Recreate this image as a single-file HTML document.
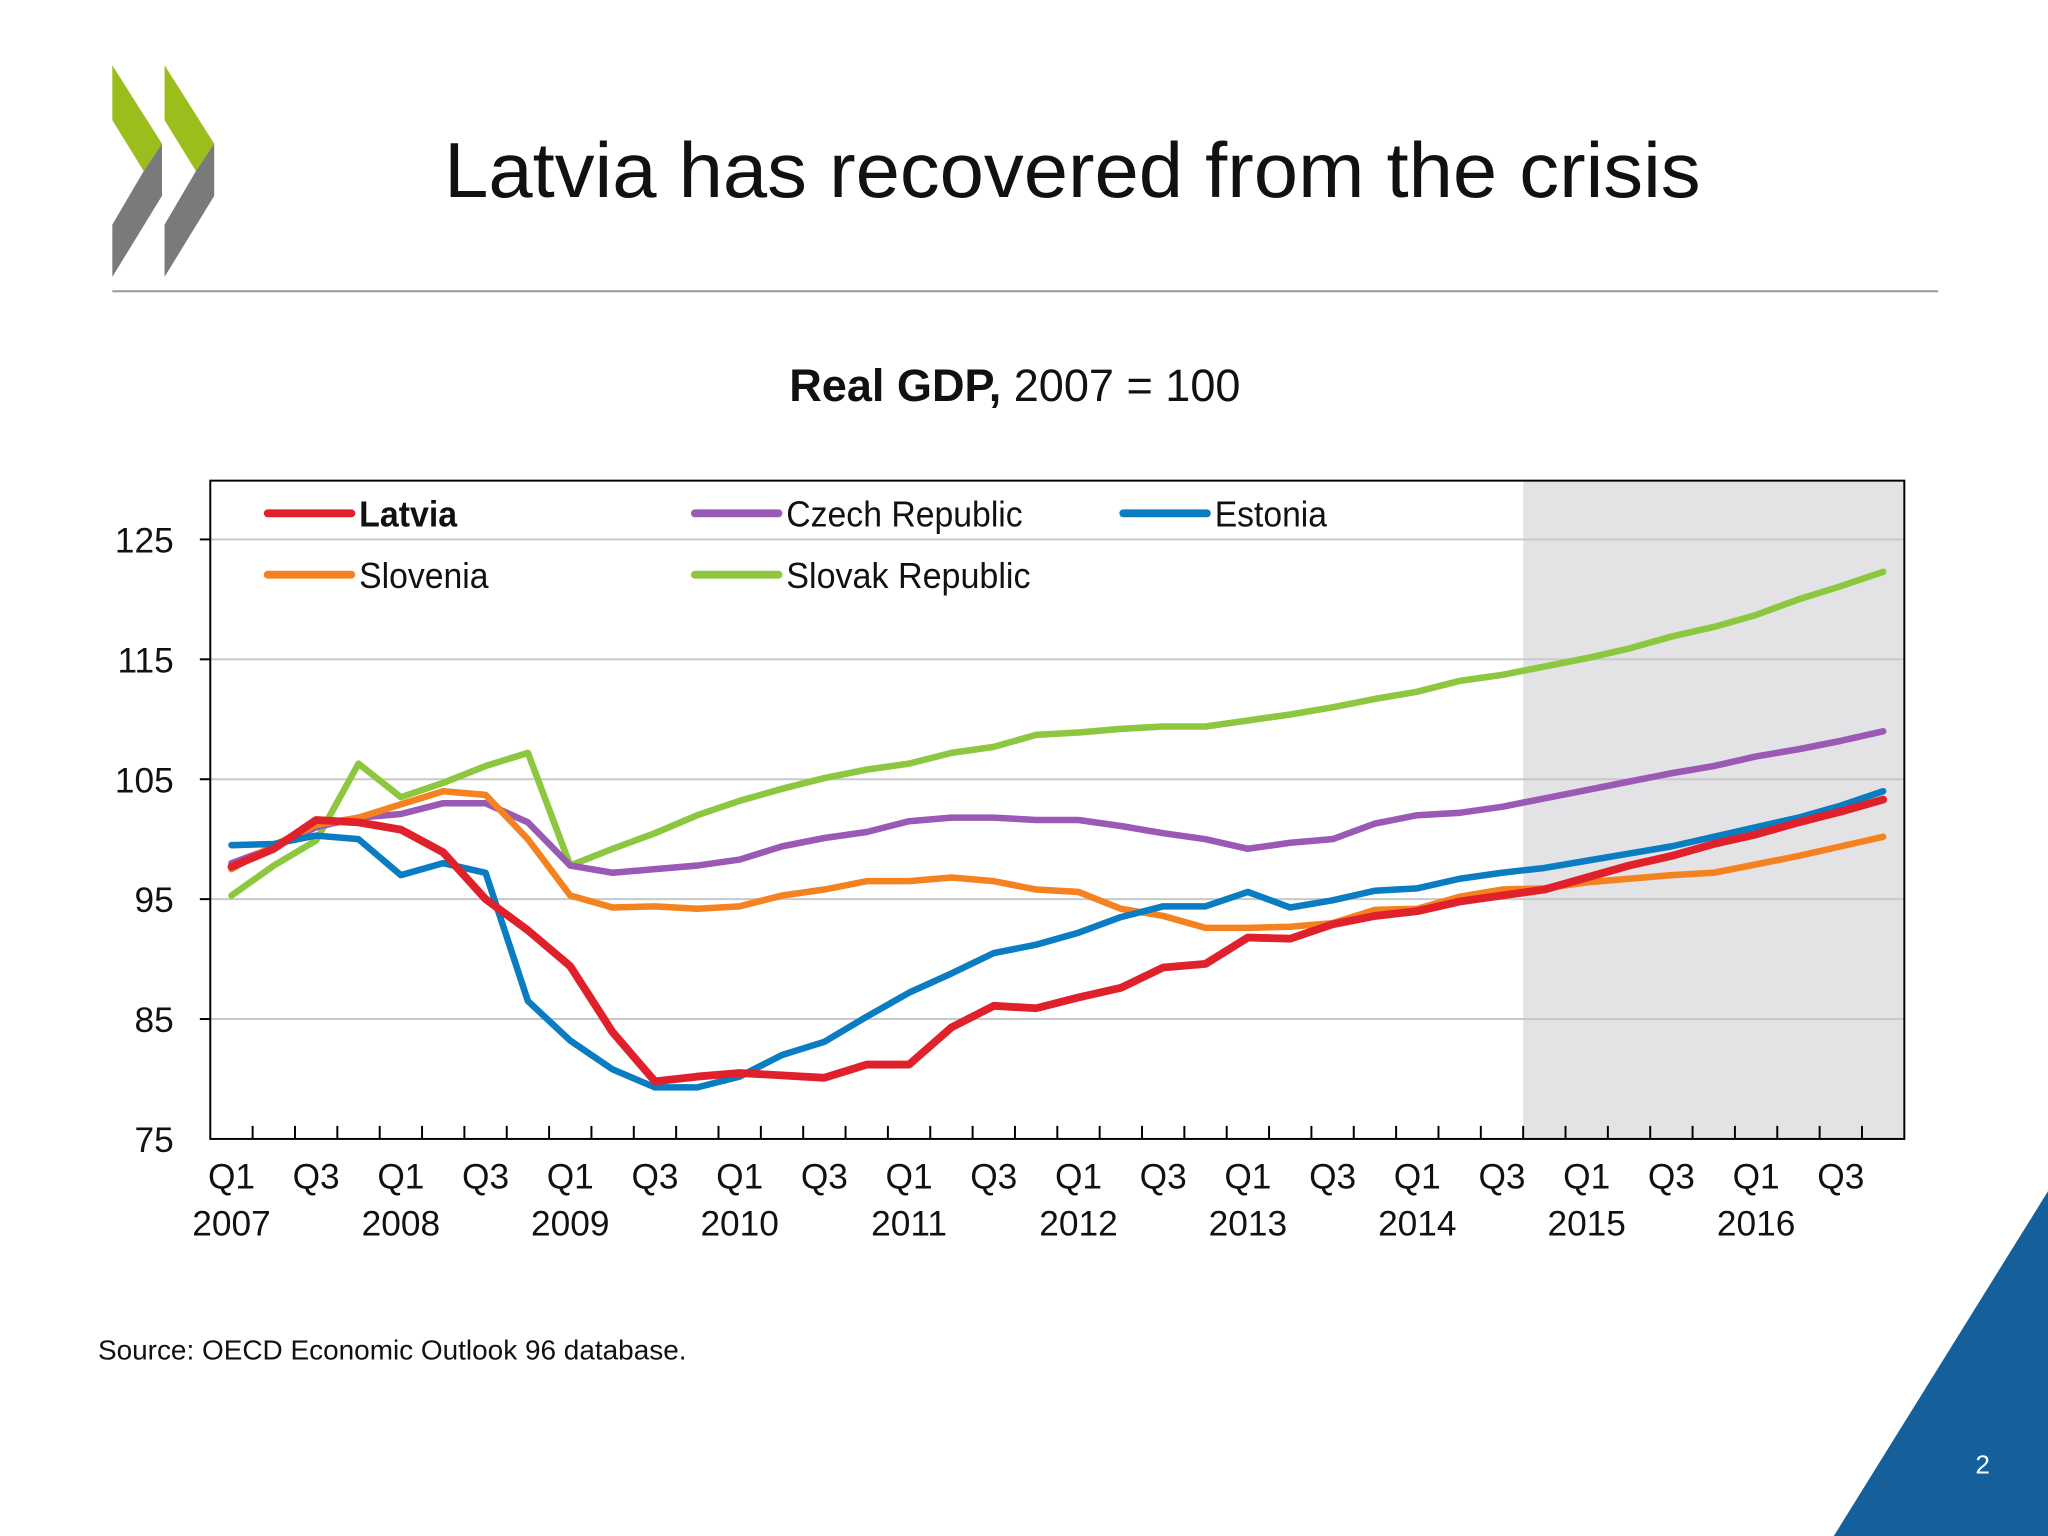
<!DOCTYPE html>
<html><head><meta charset="utf-8"><style>
html,body{margin:0;padding:0;background:#fff;}
svg{display:block;}
text{font-family:"Liberation Sans",sans-serif;}
</style></head><body>
<svg id="slide" width="2048" height="1536" viewBox="0 0 1568 1176" xmlns="http://www.w3.org/2000/svg">
<g>
<polygon points="86,50 124,110 110,131 86,92" fill="#9bbe1c"/>
<polygon points="124,110 124,150 86,212 86,172 110,131" fill="#7a7a7a"/>
<polygon points="126,50 164,110 150,131 126,92" fill="#9bbe1c"/>
<polygon points="164,110 164,150 126,212 126,172 150,131" fill="#7a7a7a"/>
</g>
<text x="821" y="151" font-size="60" text-anchor="middle" fill="#111" textLength="962" lengthAdjust="spacingAndGlyphs">Latvia has recovered from the crisis</text>
<line x1="86" y1="223" x2="1484" y2="223" stroke="#999" stroke-width="1.5"/>
<text x="777" y="307" font-size="34.5" text-anchor="middle" fill="#111"><tspan font-weight="bold">Real GDP,</tspan> 2007 = 100</text>
<g id="chart"></g>
<text x="75" y="1041" font-size="21.4" fill="#111">Source: OECD Economic Outlook 96 database.</text>
<polygon points="1404,1176 1568,912 1568,1176" fill="#15609a"/>
<text x="1518" y="1128" font-size="20" fill="#fff" text-anchor="middle">2</text>
</svg>
<script>
const yTicks=[125,115,105,95,85,75];
const xLabelsQ=["Q1","Q3","Q1","Q3","Q1","Q3","Q1","Q3","Q1","Q3","Q1","Q3","Q1","Q3","Q1","Q3","Q1","Q3","Q1","Q3"];
const xLabelsYear=["2007","","2008","","2009","","2010","","2011","","2012","","2013","","2014","","2015","","2016",""];
const seriesNames=["Latvia","Czech Republic","Estonia","Slovenia","Slovak Republic"];
const latvia=[97.7,99.2,101.6,101.4,100.8,98.9,95,92.4,89.4,83.9,79.8,80.2,80.5,80.3,80.1,81.2,81.2,84.3,86.1,85.9,86.8,87.6,89.3,89.6,91.8,91.7,92.9,93.6,94,94.8,95.3,95.8,96.8,97.8,98.6,99.6,100.4,101.4,102.3,103.3];
const estonia=[99.5,99.6,100.3,100,97,98,97.2,86.5,83.2,80.8,79.3,79.3,80.2,82,83.1,85.2,87.2,88.8,90.5,91.2,92.2,93.5,94.4,94.4,95.6,94.3,94.9,95.7,95.9,96.7,97.2,97.6,98.2,98.8,99.4,100.2,101,101.8,102.8,104];
const czech=[98,99.3,101,101.8,102.1,103,103,101.4,97.8,97.2,97.5,97.8,98.3,99.4,100.1,100.6,101.5,101.8,101.8,101.6,101.6,101.1,100.5,100,99.2,99.7,100,101.3,102,102.2,102.7,103.4,104.1,104.8,105.5,106.1,106.9,107.5,108.2,109];
const slovenia=[97.5,99.5,101.2,101.8,102.9,104,103.7,100,95.3,94.3,94.4,94.2,94.4,95.3,95.8,96.5,96.5,96.8,96.5,95.8,95.6,94.2,93.6,92.6,92.6,92.7,93,94.1,94.2,95.2,95.8,95.9,96.4,96.7,97,97.2,97.9,98.6,99.4,100.2];
const slovak=[95.3,97.8,99.9,106.3,103.5,104.7,106.1,107.2,97.8,99.2,100.5,102,103.2,104.2,105.1,105.8,106.3,107.2,107.7,108.7,108.9,109.2,109.4,109.4,109.9,110.4,111,111.7,112.3,113.2,113.7,114.4,115.1,115.9,116.9,117.7,118.7,120,121.1,122.3];
const forecastStart=31;

const NS="http://www.w3.org/2000/svg";
const g=document.getElementById('chart');
const L=161,R=1458,T=368,B=872,N=40,step=(R-L)/N;
const X=i=>L+step*(i+0.5);
const Y=v=>413+(125-v)*(B-413)/50;
function mk(tag,attrs,parent){const e=document.createElementNS(NS,tag);for(const k in attrs)e.setAttribute(k,attrs[k]);(parent||g).appendChild(e);return e;}

const shade=mk('rect',{x:L+step*forecastStart,y:T,width:R-(L+step*forecastStart),height:B-T,fill:'#e3e3e5'});



yTicks.forEach(v=>{
  if(v>75){const gl=mk('line',{x1:L-8,x2:R,y1:Y(v),y2:Y(v),stroke:'#c8c8c8','stroke-width':1.5});
  
  
  mk('line',{x1:L-8,x2:L,y1:Y(v),y2:Y(v),stroke:'#000','stroke-width':1.5});}
  const t=mk('text',{x:133,y:Y(v)+10,'font-size':27,'text-anchor':'end',fill:'#111'});
  t.textContent=v;
  
  
});

for(let k=1;k<N;k++){mk('line',{x1:L+step*k,x2:L+step*k,y1:B,y2:B-10,stroke:'#000','stroke-width':1.5});}
xLabelsQ.forEach((q,j)=>{
  const x=X(j*2);
  const t=mk('text',{x:x,y:910,'font-size':27,'text-anchor':'middle',fill:'#111'});
  t.textContent=q;
  
  
  if(xLabelsYear[j]){const t2=mk('text',{x:x,y:946,'font-size':27,'text-anchor':'middle',fill:'#111'});
  t2.textContent=xLabelsYear[j];
  
  }
});

const frame=mk('rect',{x:L,y:T,width:R-L,height:B-T,fill:'none',stroke:'#000','stroke-width':1.5});



const series=[[slovak,'#8dc63f'],[czech,'#9b59b6'],[slovenia,'#f58220'],[estonia,'#0a7cc1'],[latvia,'#e0202a']];
const sNames=['slovak-republic','czech-republic','slovenia','estonia','latvia'];
series.forEach((s,k)=>{
  const p=mk('polyline',{points:s[0].map((v,i)=>X(i)+','+Y(v)).join(' '),fill:'none',stroke:s[1],'stroke-width':k==4?6:5,'stroke-linejoin':'round','stroke-linecap':'round'});
  
  
});

const leg=[["Latvia",'#e0202a',205,393,75,true],["Czech Republic",'#9b59b6',532,393,181,false],["Estonia",'#0a7cc1',860,393,86,false],["Slovenia",'#f58220',205,440,99,false],["Slovak Republic",'#8dc63f',532,440,187,false]];
leg.forEach(l=>{
  const lg=mk('g',{});
  
  
  mk('line',{x1:l[2],x2:l[2]+64,y1:l[3],y2:l[3],stroke:l[1],'stroke-width':6,'stroke-linecap':'round'},lg);
  const t=mk('text',{x:l[2]+70,y:l[3]+10,'font-size':28,fill:'#111',textLength:l[4],lengthAdjust:'spacingAndGlyphs','font-weight':l[5]?'bold':'normal'},lg);
  t.textContent=l[0];
});
</script>
</body></html>
